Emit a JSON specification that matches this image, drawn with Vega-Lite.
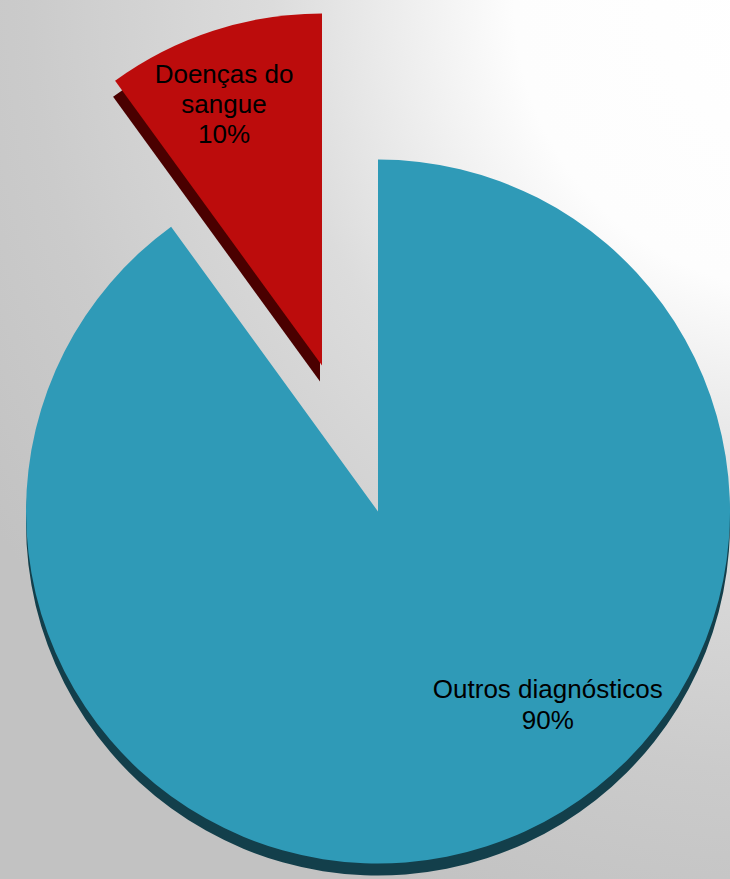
{
  "$schema": "https://vega.github.io/schema/vega-lite/v6.json",
  "width": 730,
  "height": 879,
  "autosize": "none",
  "padding": 0,
  "background": "#c6c6c6",
  "view": {
    "stroke": null,
    "fill": {
      "gradient": "radial",
      "x1": 1, "y1": 0, "r1": 0,
      "x2": 1, "y2": 0, "r2": 1.1,
      "stops": [
        {"offset": 0, "color": "#ffffff"},
        {"offset": 0.3, "color": "#fdfdfd"},
        {"offset": 0.55, "color": "#dcdcdc"},
        {"offset": 0.8, "color": "#cbcbcb"},
        {"offset": 1, "color": "#c2c2c2"}
      ]
    }
  },
  "data": {
    "values": [
      {"categoria": "Outros diagnósticos", "valor": 90, "rotulo": "Outros diagnósticos\n90%"},
      {"categoria": "Doenças do sangue", "valor": 10, "rotulo": "Doenças do\nsangue\n10%"}
    ]
  },
  "encoding": {
    "theta": {"field": "valor", "type": "quantitative", "stack": true},
    "order": {"field": "valor", "type": "quantitative", "sort": "descending"}
  },
  "layer": [
    {
      "mark": {"type": "arc", "radius": 352, "xOffset": 13, "yOffset": 84},
      "encoding": {
        "fill": {"condition": {"test": "datum.categoria === 'Outros diagnósticos'", "value": "#133f4b"}, "value": "transparent"}
      }
    },
    {
      "mark": {"type": "arc", "radius": 352, "xOffset": -45, "yOffset": -58},
      "encoding": {
        "fill": {"condition": {"test": "datum.categoria === 'Doenças do sangue'", "value": "#4a0000"}, "value": "transparent"}
      }
    },
    {
      "mark": {"type": "arc", "radius": 352, "xOffset": 13, "yOffset": 72},
      "encoding": {
        "fill": {"condition": {"test": "datum.categoria === 'Outros diagnósticos'", "value": "#2f9ab7"}, "value": "transparent"}
      }
    },
    {
      "mark": {"type": "arc", "radius": 352, "xOffset": -43, "yOffset": -74},
      "encoding": {
        "fill": {"condition": {"test": "datum.categoria === 'Doenças do sangue'", "value": "#bc0c0c"}, "value": "transparent"}
      }
    },
    {
      "mark": {"type": "text", "radius": 203, "dx": 120, "dy": 57, "font": "Liberation Sans", "fontSize": 26, "lineBreak": "\n", "lineHeight": 31, "align": "center", "baseline": "middle", "color": "#000000"},
      "encoding": {
        "text": {"field": "rotulo"},
        "opacity": {"condition": {"test": "datum.categoria === 'Outros diagnósticos'", "value": 1}, "value": 0}
      }
    },
    {
      "mark": {"type": "text", "radius": 275, "dx": -56, "dy": -103, "font": "Liberation Sans", "fontSize": 26, "lineBreak": "\n", "lineHeight": 30, "align": "center", "baseline": "middle", "color": "#000000"},
      "encoding": {
        "text": {"field": "rotulo"},
        "opacity": {"condition": {"test": "datum.categoria === 'Doenças do sangue'", "value": 1}, "value": 0}
      }
    }
  ]
}
